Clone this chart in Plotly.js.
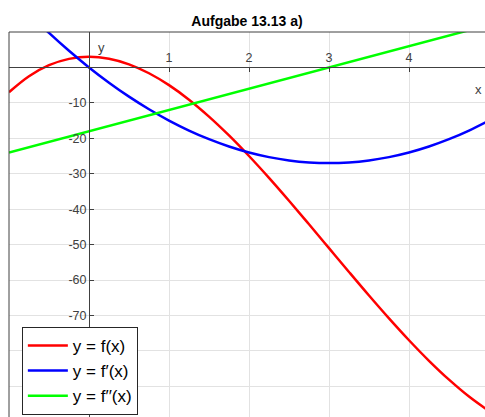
<!DOCTYPE html>
<html>
<head>
<meta charset="utf-8">
<script src="https://cdn.plot.ly/plotly-3.0.1.min.js"></script>
<style>html,body{margin:0;padding:0;background:#fff;}#chart{width:485px;height:417px;}</style>
</head>
<body>
<div id="chart"></div>
<script>
// values
var xs = [-1, -0.75, -0.5, -0.25, 0, 0.25, 0.5, 0.75, 1, 1.25, 1.5, 1.75, 2, 2.25, 2.5, 2.75, 3, 3.25, 3.5, 3.75, 4, 4.25, 4.5, 4.75, 5];
var fVals = [-7, -2.48, 0.63, 2.42, 3, 2.45, 0.88, -1.64, -5, -9.11, -13.88, -19.2, -25, -31.17, -37.63, -44.27, -51, -57.73, -64.38, -70.83, -77, -82.8, -88.13, -92.9, -97];
var f1Vals = [21, 15.19, 9.75, 4.69, 0, -4.31, -8.25, -11.81, -15, -17.81, -20.25, -22.31, -24, -25.31, -26.25, -26.81, -27, -26.81, -26.25, -25.31, -24, -22.31, -20.25, -17.81, -15];
var f2Vals = [-24, -22.5, -21, -19.5, -18, -16.5, -15, -13.5, -12, -10.5, -9, -7.5, -6, -4.5, -3, -1.5, 0, 1.5, 3, 4.5, 6, 7.5, 9, 10.5, 12];
var seriesNames = ['y = f(x)', 'y = f\u2032(x)', 'y = f\u2032\u2032(x)'];
var xTicks = [1, 2, 3, 4];
var xTickText = ['1', '2', '3', '4'];
var yTicks = [-90, -80, -70, -60, -50, -40, -30, -20, -10];
var yTickText = ['', '', '-70', '-60', '-50', '-40', '-30', '-20', '-10'];
var titleText = 'Aufgabe 13.13 a)';

var xRange = [-1, 4.95];
var yRange = [-98.66, 10];
var FONT = '"Liberation Sans", Arial, Helvetica, sans-serif';
var axisCol = '#404040';

var traces = [
  {x: xs, y: fVals, name: seriesNames[0], mode: 'lines', line: {color: '#ff0000', width: 2.5, shape: 'spline'}},
  {x: xs, y: f1Vals, name: seriesNames[1], mode: 'lines', line: {color: '#0000ff', width: 2.5, shape: 'spline'}},
  {x: xs, y: f2Vals, name: seriesNames[2], mode: 'lines', line: {color: '#00ff00', width: 2.5}}
];

var xPos = (0 - yRange[0]) / (yRange[1] - yRange[0]);
var yPos = (0 - xRange[0]) / (xRange[1] - xRange[0]);

var layout = {
  width: 485, height: 417,
  margin: {l: 9, r: 0, t: 32, b: 0, pad: 0},
  paper_bgcolor: '#ffffff', plot_bgcolor: '#ffffff',
  font: {family: FONT, color: '#262626'},
  showlegend: true,
  title: {text: '<b>' + titleText + '</b>', font: {size: 14, family: FONT, color: '#000'},
          x: 0.5, xref: 'paper', xanchor: 'center', y: 1 - 21/417, yref: 'container', yanchor: 'middle'},
  xaxis: {range: xRange, tickmode: 'array', tickvals: xTicks, ticktext: xTickText,
          showgrid: true, gridcolor: '#e2e2e2', gridwidth: 1, zeroline: false,
          anchor: 'free', position: xPos, side: 'top', showline: true, linecolor: axisCol, linewidth: 1,
          ticks: 'inside', ticklen: 4, tickcolor: axisCol, tickfont: {size: 12.5, color: '#404040', family: FONT}},
  yaxis: {range: yRange, tickmode: 'array', tickvals: yTicks, ticktext: yTickText,
          showgrid: true, gridcolor: '#e2e2e2', gridwidth: 1, zeroline: false,
          anchor: 'free', position: yPos, side: 'left', showline: true, linecolor: axisCol, linewidth: 1,
          ticks: 'inside', ticklen: 4, tickcolor: axisCol, tickfont: {size: 12.5, color: '#404040', family: FONT}},
  shapes: [
    {type: 'line', xref: 'paper', yref: 'paper', x0: 0, x1: 0, y0: 0, y1: 1, line: {color: axisCol, width: 1}},
    {type: 'line', xref: 'paper', yref: 'paper', x0: 0, x1: 1, y0: 1, y1: 1, line: {color: axisCol, width: 1}}
  ],
  annotations: [
    {x: 0.16, y: 5.6, xref: 'x', yref: 'y', text: 'y', showarrow: false, font: {size: 13, color: '#404040', family: FONT}},
    {x: 4.87, y: -6.3, xref: 'x', yref: 'y', text: 'x', showarrow: false, font: {size: 13, color: '#404040', family: FONT}}
  ],
  legend: {x: 0.027, y: 0.234, xanchor: 'left', yanchor: 'top', bgcolor: '#ffffff', bordercolor: '#262626', borderwidth: 1,
           font: {size: 17, color: '#000', family: FONT}, itemwidth: 40, tracegroupgap: 0}
};

Plotly.newPlot('chart', traces, layout, {displayModeBar: false, staticPlot: true});
</script>
</body>
</html>
